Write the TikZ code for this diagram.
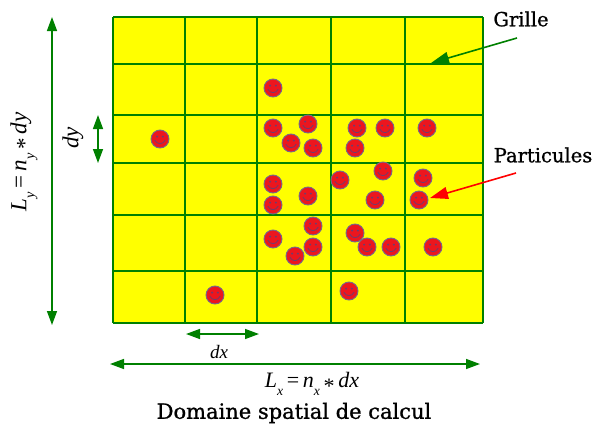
\documentclass[tikz,border=0pt]{standalone}
\usepackage{fontspec}
\setmainfont{DejaVu Serif}[FakeBold=1]
\newfontfamily\tmfont{Liberation Serif}
\usetikzlibrary{arrows.meta}
\definecolor{gridgreen}{RGB}{0,128,0}
\definecolor{cellyellow}{RGB}{255,255,0}
\definecolor{partred}{RGB}{236,22,30}
\definecolor{partedge}{RGB}{115,105,140}
\definecolor{pfeature}{RGB}{110,60,110}
\definecolor{arrowred}{RGB}{255,0,0}
\newcommand{\mv}[1]{{\tmfont\itshape #1}}
\newcommand{\msub}[1]{\raisebox{-0.35em}{\fontsize{0.62em}{1em}\selectfont\tmfont\itshape #1}}
\newcommand{\mrel}[1]{{\tmfont\,#1\,}}
\begin{document}
\begin{tikzpicture}[x=1pt,y=-1pt,
  gridline/.style={draw=gridgreen,line width=2.2pt},
  dimarrow/.style={draw=gridgreen,line width=1.4pt,
    {Triangle[length=14pt,width=10pt]}-{Triangle[length=14pt,width=10pt]}},
  callout/.style={line width=1.6pt,-{Triangle[length=18pt,width=12pt]}},
  labeltext/.style={font=\fontsize{19.5}{22}\selectfont,inner sep=0pt},
  particle/.style={circle,minimum size=18pt,inner sep=0pt,fill=partred,
    draw=partedge,line width=0.9pt},
  facefeat/.style={pfeature,line width=0.8pt},
]
\useasboundingbox (0,0) rectangle (595,426);

% grid
\fill[cellyellow] (113,17) rectangle (483,323);
\foreach \gx in {113,185,257,331,405,483}
  \draw[gridline] (\gx,17) -- (\gx,323);
\foreach \gy in {17,64,115,163,215,271,323}
  \draw[gridline] (113,\gy) -- (483,\gy);

% particles
\foreach \px/\py [count=\i] in {273/88,160/139,273/128,308/124,291/143,313/148,
    357/128,385/128,427/128,355/148,383/171,340/180,423/178,273/184,308/196,
    375/200,419/200,273/205,313/226,273/239,355/233,313/247,295/256,367/247,
    391/247,433/247,215/295,349/291}
{
  \node[particle] (p\i) at (\px,\py) {};
  \fill[pfeature,shift={(p\i.center)}] (-2.8,-2.4) circle (1.1pt) (2.8,-2.4) circle (1.1pt);
  \draw[facefeat,shift={(p\i.center)}] (-5.2,1.2) .. controls (-3,5.8) and (3,5.8) .. (5.2,1.2);
}

% labels
\node[labeltext] (grille) at (521,19) {Grille};
\node[labeltext] (partic) at (543,155) {Particules};
\node[font=\fontsize{21}{24}\selectfont,inner sep=0pt] (domaine) at (294,413) {Domaine spatial de calcul};

% callout arrows
\coordinate (gs) at (517,38);
\coordinate (ge) at (431,63);
\draw[callout,draw=gridgreen,fill=gridgreen] (gs) -- (ge);
\coordinate (ps) at (516,173);
\coordinate (pe) at (430,198);
\draw[callout,draw=arrowred,fill=arrowred] (ps) -- (pe);

% dimension arrows
\coordinate (lyt) at (52,17);
\coordinate (lyb) at (52,325);
\draw[dimarrow] (lyt) -- (lyb);
\coordinate (dyt) at (98,115);
\coordinate (dyb) at (98,163);
\draw[dimarrow] (dyt) -- (dyb);
\coordinate (dxl) at (186,334);
\coordinate (dxr) at (259,334);
\draw[dimarrow] (dxl) -- (dxr);
\coordinate (lxl) at (110,364);
\coordinate (lxr) at (480,364);
\draw[dimarrow] (lxl) -- (lxr);

\node[font=\fontsize{23}{26}\selectfont,inner sep=0pt,rotate=90] (ly) at (24,162)
  {\mv{L}\msub{y}\mrel{=}\mv{n}\msub{y}\mrel{\raisebox{-0.25em}{*}}\mv{dy}};
\node[font=\fontsize{23}{26}\selectfont,inner sep=0pt,rotate=90] (dy) at (73,138) {\mv{dy}};
\node[font=\fontsize{19}{22}\selectfont,inner sep=0pt] (dx) at (219,352) {\mv{dx}};
\node[font=\fontsize{22}{25}\selectfont,inner sep=0pt] (lx) at (312,384)
  {\mv{L}\msub{x}\mrel{=}\mv{n}\msub{x}\mrel{\raisebox{-0.25em}{*}}\mv{dx}};
\end{tikzpicture}
\end{document}
